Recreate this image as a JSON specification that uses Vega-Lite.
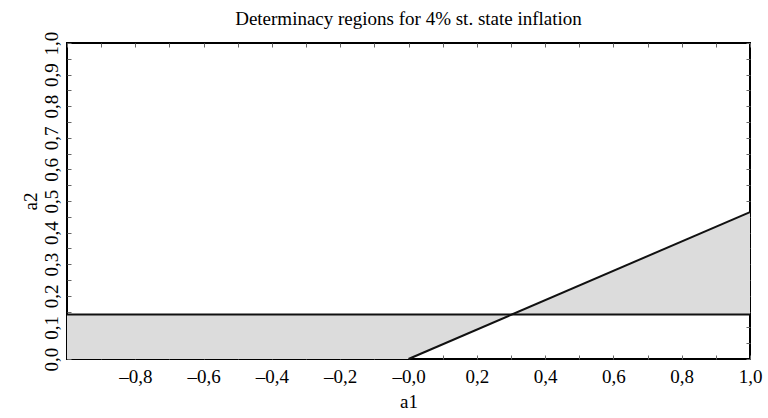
{
  "$schema": "https://vega.github.io/schema/vega-lite/v6.json",
  "width": 683,
  "height": 316,
  "autosize": {"type": "none"},
  "padding": {"left": 67, "top": 43, "right": 18, "bottom": 59},
  "background": "white",
  "title": {"text": "Determinacy regions for 4% st. state inflation", "font": "Liberation Serif", "fontSize": 19, "fontWeight": "normal", "color": "black", "offset": 2, "anchor": "middle"},
  "config": {
    "view": {"stroke": "black", "strokeWidth": 2},
    "axis": {"grid": false, "domain": false, "labelFont": "Liberation Serif", "titleFont": "Liberation Serif", "labelFontSize": 19, "titleFontSize": 19, "titleFontWeight": "normal", "labelColor": "black", "titleColor": "black", "tickColor": "#666", "tickSize": -4, "tickWidth": 1, "labelFlush": false, "labelOverlap": false}
  },
  "datasets": {
    "region": [
      {"a1": -1.0, "lo": 0.0, "hi": 0.141},
      {"a1": 0.0, "lo": 0.0, "hi": 0.141},
      {"a1": 0.303, "lo": 0.141, "hi": 0.141},
      {"a1": 1.0, "lo": 0.141, "hi": 0.465}
    ],
    "bounds": [
      {"s": "h", "a1": -1.0, "a2": 0.141},
      {"s": "h", "a1": 1.0, "a2": 0.141},
      {"s": "d", "a1": 0.0, "a2": 0.0},
      {"s": "d", "a1": 1.0, "a2": 0.465}
    ]
  },
  "layer": [
    {
      "data": {"name": "region"},
      "mark": {"type": "area", "color": "#dcdcdc", "opacity": 1},
      "encoding": {
        "x": {"field": "a1", "type": "quantitative", "scale": {"domain": [-1, 1], "nice": false}, "axis": {"orient": "bottom", "title": "a1", "titlePadding": 6, "labelPadding": 12, "values": [-1, -0.9, -0.8, -0.7, -0.6, -0.5, -0.4, -0.3, -0.2, -0.1, 0, 0.1, 0.2, 0.3, 0.4, 0.5, 0.6, 0.7, 0.8, 0.9, 1.0], "labelExpr": "(abs(round(datum.value*10)) % 2 == 0 && datum.value > -0.95) ? ((datum.value < 0.05 ? '–' : '') + replace(format(abs(datum.value), '.1f'), '.', ',')) : ''"}},
        "y": {"field": "lo", "type": "quantitative", "scale": {"domain": [0, 1], "nice": false}, "axis": {"orient": "left", "title": "a2", "titlePadding": 2, "labelPadding": 10, "labelAngle": -90, "labelAlign": "center", "labelBaseline": "bottom", "values": [0, 0.05, 0.1, 0.15, 0.2, 0.25, 0.3, 0.35, 0.4, 0.45, 0.5, 0.55, 0.6, 0.65, 0.7, 0.75, 0.8, 0.85, 0.9, 0.95, 1.0], "labelExpr": "round(datum.value*100) % 10 == 0 ? replace(format(datum.value, '.1f'), '.', ',') : ''"}},
        "y2": {"field": "hi"}
      }
    },
    {
      "data": {"name": "bounds"},
      "mark": {"type": "line", "color": "#111", "strokeWidth": 2},
      "encoding": {
        "x": {"field": "a1", "type": "quantitative", "axis": {"orient": "top", "title": null, "labels": false, "values": [-1, -0.9, -0.8, -0.7, -0.6, -0.5, -0.4, -0.3, -0.2, -0.1, 0, 0.1, 0.2, 0.3, 0.4, 0.5, 0.6, 0.7, 0.8, 0.9, 1.0]}},
        "y": {"field": "a2", "type": "quantitative", "axis": {"orient": "right", "title": null, "labels": false, "values": [0, 0.05, 0.1, 0.15, 0.2, 0.25, 0.3, 0.35, 0.4, 0.45, 0.5, 0.55, 0.6, 0.65, 0.7, 0.75, 0.8, 0.85, 0.9, 0.95, 1.0]}},
        "detail": {"field": "s"}
      }
    }
  ],
  "resolve": {"axis": {"x": "independent", "y": "independent"}}
}
